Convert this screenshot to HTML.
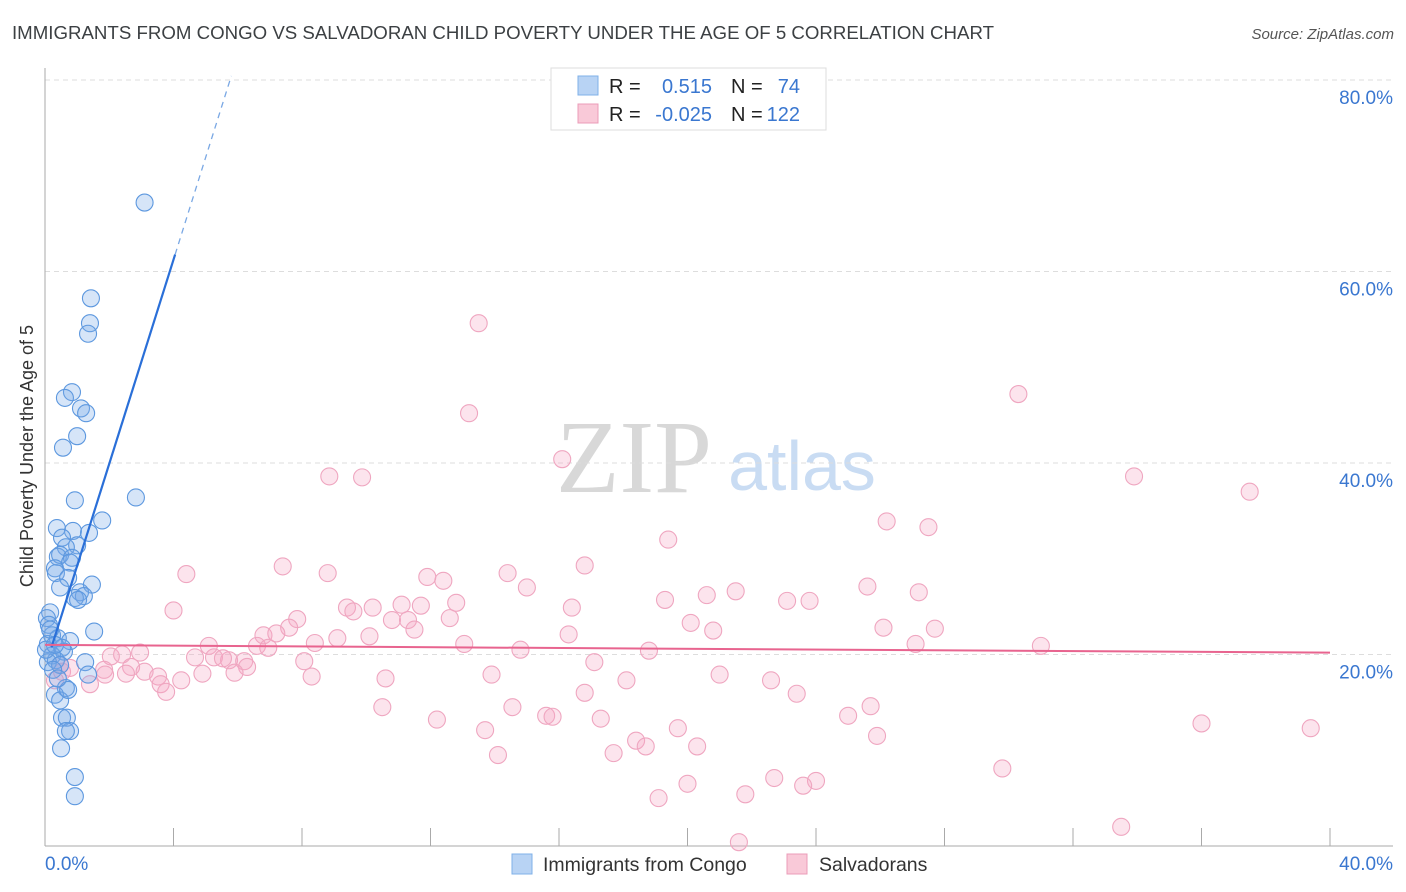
<!DOCTYPE html>
<html><head><meta charset="utf-8"><style>
body{margin:0;background:#fff;font-family:"Liberation Sans",sans-serif;}
svg{display:block}
</style></head><body>
<svg id="c" width="1406" height="892" xmlns="http://www.w3.org/2000/svg">
<text x="12" y="39" font-size="18" fill="#3c4043" textLength="982" lengthAdjust="spacingAndGlyphs">IMMIGRANTS FROM CONGO VS SALVADORAN CHILD POVERTY UNDER THE AGE OF 5 CORRELATION CHART</text>
<text x="1394" y="39" font-size="15" fill="#555" font-style="italic" text-anchor="end">Source: ZipAtlas.com</text>
<text x="0" y="0" transform="translate(33,456) rotate(-90)" font-size="18" fill="#333" text-anchor="middle">Child Poverty Under the Age of 5</text>
<g>
<text x="634" y="492" font-size="104" font-family="Liberation Serif,serif" fill="#d8d8d8" text-anchor="middle">ZIP</text>
<text x="802" y="490" font-size="70" fill="#c9dcf3" text-anchor="middle">atlas</text>
</g>
<g id="grid"></g>
<g id="axes"></g>
<g id="pts"></g>
<g id="lines"></g>
<g>
<rect x="551" y="68" width="275" height="62" fill="#fff" stroke="#ddd"/>
<rect x="578" y="76" width="20" height="19" fill="#b8d3f4" stroke="#7fb0e8"/>
<rect x="578" y="104" width="20" height="19" fill="#f9c9d8" stroke="#eb9cb8"/>
<g font-size="20" fill="#222">
<text x="609" y="93">R =</text><text x="609" y="121">R =</text>
<text x="731" y="93">N =</text><text x="731" y="121">N =</text>
</g>
<g font-size="20" fill="#3a77d0">
<text x="712" y="93" text-anchor="end">0.515</text><text x="712" y="121" text-anchor="end">-0.025</text>
<text x="800" y="93" text-anchor="end">74</text><text x="800" y="121" text-anchor="end">122</text>
</g>
</g>
<g>
<rect x="512" y="854" width="20" height="20" fill="#b8d3f4" stroke="#7fb0e8"/>
<text x="543" y="871" font-size="19.5" fill="#333">Immigrants from Congo</text>
<rect x="787" y="854" width="20" height="20" fill="#f9c9d8" stroke="#eb9cb8"/>
<text x="819" y="871" font-size="19.5" fill="#333">Salvadorans</text>
</g>
</svg>
<script>
const xTicks=[0,4,8,12,16,20,24,28,32,36,40];
const yTicks=[20,40,60,80];
const yTickLabels=["20.0%","40.0%","60.0%","80.0%"];
const xEndLabels=["0.0%","40.0%"];
const congoX=[3.1,1.43,1.4,1.34,0.84,0.62,1.12,1.28,1.0,0.56,2.83,0.93,1.78,0.37,0.87,1.37,0.53,1.0,0.65,0.4,0.47,0.84,0.31,0.78,0.34,0.72,1.46,0.47,1.09,1.21,0.93,1.03,0.16,0.06,0.12,1.53,0.22,0.4,0.78,0.09,0.53,0.59,0.22,0.34,0.09,0.47,1.25,1.34,0.65,0.31,0.47,0.53,0.68,0.78,0.65,0.5,0.93,0.93,0.72,0.25,0.4,0.03,0.16,0.31];
const congoY=[67.2,57.2,54.6,53.5,47.4,46.8,45.7,45.2,42.8,41.6,36.4,36.1,34.0,33.2,32.9,32.7,32.2,31.4,31.2,30.2,30.4,30.1,29.0,29.6,28.5,28.0,27.3,27.0,26.5,26.1,25.9,25.7,24.4,23.8,23.1,22.4,22.0,21.7,21.4,21.1,20.7,20.3,19.9,19.4,19.2,18.9,19.2,17.9,16.5,15.8,15.2,13.4,13.4,12.0,12.0,10.2,7.2,5.2,16.3,18.4,17.5,20.5,22.6,21.0];
const salvX=[13.5,30.3,13.2,16.1,8.85,9.87,33.9,37.5,26.2,27.5,19.4,7.4,16.8,4.4,8.8,14.4,11.9,12.4,15.0,25.6,21.5,20.6,27.2,19.3,23.1,23.8,12.8,9.4,9.6,10.2,11.1,11.7,16.4,4.0,7.85,10.8,11.3,12.6,20.1,26.1,27.7,7.6,11.5,20.8,6.8,7.2,16.3,9.1,10.1,8.4,5.1,6.6,6.95,13.05,27.1,31.0,14.8,18.8,2.96,2.05,2.4,4.67,5.26,5.73,5.54,6.2,8.07,17.1,6.29,2.68,1.84,3.1,2.52,3.52,4.9,5.9,1.87,13.9,21.0,8.3,10.6,4.24,22.6,18.1,1.4,3.6,3.77,16.8,23.4,10.5,14.55,25.7,25.0,15.6,15.8,12.2,17.3,36.0,19.7,13.7,39.4,25.9,18.4,18.7,20.3,17.7,14.1,29.8,22.7,24.0,23.6,20.0,19.1,21.8,33.5,21.6,0.47,0.53,0.78,0.31];
const salvY=[54.6,47.2,45.2,40.4,38.6,38.5,38.6,37.0,33.9,33.3,32.0,29.2,29.3,28.4,28.5,28.5,28.1,27.7,27.0,27.1,26.6,26.2,26.5,25.7,25.6,25.6,25.4,24.9,24.5,24.9,25.2,25.1,24.9,24.6,23.7,23.6,23.6,23.8,23.3,22.8,22.7,22.8,22.6,22.5,22.0,22.2,22.1,21.7,21.9,21.2,20.9,20.9,20.7,21.1,21.1,20.9,20.5,20.4,20.2,19.8,20.0,19.7,19.7,19.4,19.6,19.3,19.3,19.2,18.7,18.7,18.4,18.2,18.0,17.7,18.0,18.1,17.9,17.9,17.9,17.7,17.5,17.3,17.3,17.3,16.9,16.9,16.1,16.0,15.9,14.5,14.5,14.6,13.6,13.6,13.5,13.2,13.3,12.8,12.3,12.1,12.3,11.5,11.0,10.4,10.4,9.7,9.5,8.1,7.1,6.8,6.3,6.5,5.0,5.4,2.0,0.4,18.9,18.2,18.6,17.3];
const congoFit=[18.6,10.66];
const salvFit=[21.0,-0.02];

const NS="http://www.w3.org/2000/svg";
const X0=45,X1=1330,Y0=846,YP=9.575;
const sx=v=>X0+(X1-X0)*v/40;
const sy=v=>Y0-v*YP;
function mk(tag,attrs,parent){const e=document.createElementNS(NS,tag);for(const k in attrs)e.setAttribute(k,attrs[k]);parent.appendChild(e);return e;}
const grid=document.getElementById('grid'),axes=document.getElementById('axes'),pts=document.getElementById('pts'),lines=document.getElementById('lines');
yTicks.forEach((t,i)=>{
 const g=mk('line',{x1:X0,x2:1393,y1:sy(t),y2:sy(t),stroke:'#ddd','stroke-dasharray':'5,4'},grid);
 
 
 const l=mk('text',{x:1393,y:sy(t)+24,'font-size':19,fill:'#3a77d0','text-anchor':'end'},axes);
 l.textContent=yTickLabels[i];
 
 
});
const ax=mk('line',{x1:X0,x2:X0,y1:68,y2:Y0,stroke:'#aaa'},axes);


const bx=mk('line',{x1:X0,x2:1393,y1:Y0,y2:Y0,stroke:'#aaa'},axes);


xTicks.forEach(t=>{
 const k=mk('line',{x1:sx(t),x2:sx(t),y1:Y0-18,y2:Y0,stroke:'#aaa'},axes);
 
 
});
const l0=mk('text',{x:45,y:870,'font-size':19,fill:'#3a77d0'},axes);l0.textContent=xEndLabels[0];


const l1=mk('text',{x:1393,y:870,'font-size':19,fill:'#3a77d0','text-anchor':'end'},axes);l1.textContent=xEndLabels[1];


salvX.forEach((x,i)=>{
 const c=mk('circle',{cx:sx(x),cy:sy(salvY[i]),r:8.5,fill:'rgba(244,165,195,0.3)',stroke:'#efa6c0','stroke-width':1.1},pts);
 
 
});
congoX.forEach((x,i)=>{
 const c=mk('circle',{cx:sx(x),cy:sy(congoY[i]),r:8.5,fill:'rgba(120,170,232,0.3)',stroke:'#5d98df','stroke-width':1.1},pts);
 
 
});
const cf=x=>congoFit[0]+congoFit[1]*x, sf=x=>salvFit[0]+salvFit[1]*x;
const t1=mk('line',{x1:sx(0.2),y1:sy(cf(0.2)),x2:sx(4.05),y2:sy(cf(4.05)),stroke:'#2a6fd8','stroke-width':2.2},lines);


const t2=mk('line',{x1:sx(4.05),y1:sy(cf(4.05)),x2:sx(5.8),y2:sy(cf(5.8)),stroke:'#7aa8e4','stroke-width':1.3,'stroke-dasharray':'6,5'},lines);


const t3=mk('line',{x1:sx(0),y1:sy(sf(0)),x2:sx(40),y2:sy(sf(40)),stroke:'#e8648f','stroke-width':2},lines);


</script>
</body></html>
